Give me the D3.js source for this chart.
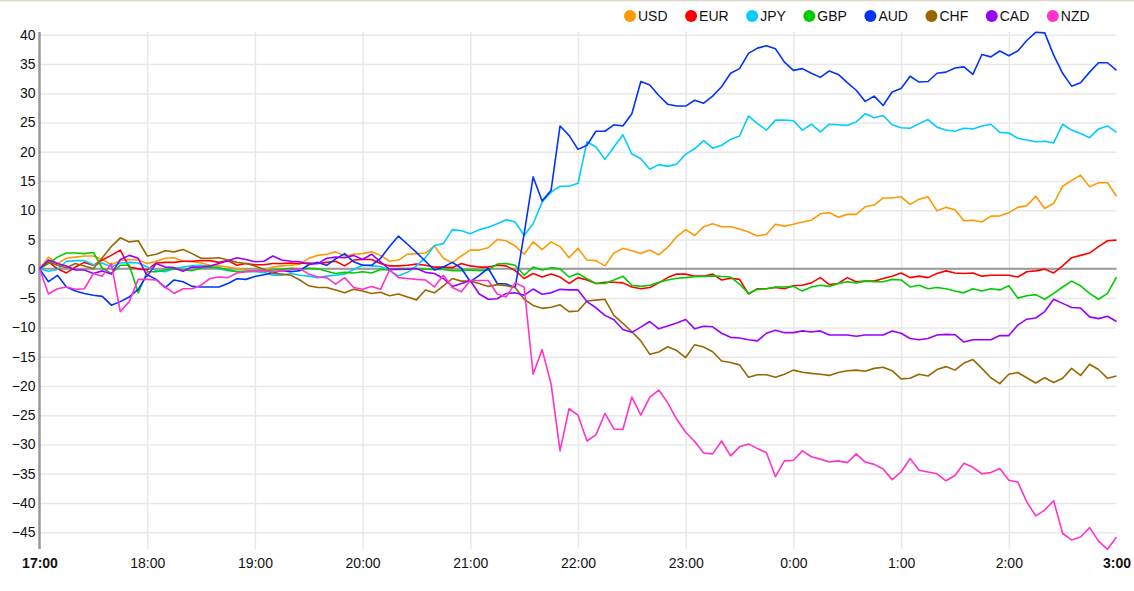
<!DOCTYPE html>
<html>
<head>
<meta charset="utf-8">
<script src="https://cdn.jsdelivr.net/npm/d3@7"></script>
<style>
    html, body { margin: 0; padding: 0; background: #fff; }
    svg { display: block; font-family: "Liberation Sans", Arial, sans-serif; }
</style>
</head>
<body>
<div id="chart-container"></div>
<script>
const currencies = ["USD", "EUR", "JPY", "GBP", "AUD", "CHF", "CAD", "NZD"];
const colorMapping = {
    USD: "#ff9900", EUR: "#ff0000", JPY: "#00ccff", GBP: "#00cc00",
    AUD: "#0033ff", CHF: "#996600", CAD: "#9900ff", NZD: "#ff33cc"
};
// one point every 5 minutes from 17:00 to 3:00
const tickLabels = ["17:00", "18:00", "19:00", "20:00", "21:00", "22:00", "23:00", "0:00", "1:00", "2:00", "3:00"];
const yTicks = [-45, -40, -35, -30, -25, -20, -15, -10, -5, 0, 5, 10, 15, 20, 25, 30, 35, 40];

const usd = [0, 2.0, 0.9, 1.8, 2.0, 2.2, 2.2, 1.6, 0.7, 1.4, 1.6, 1.5, 0.9, 1.3, 1.8, 1.9, 1.3, 1.2, 1.0, 0.6, 0.5, 0.3, 0.05, -0.2, -0.35, -0.2, 0.3, 0.5, 0.6, 0.8,
    1.8, 2.3, 2.5, 2.9, 2.2, 2.5, 2.6, 2.9, 2.3, 1.3, 1.5, 2.5, 2.6, 2.7, 3.9, 1.8, 1.0, 2.2, 3.2, 3.2, 3.6, 5.0, 4.8, 3.9, 2.5, 4.6, 3.3, 4.6, 3.8, 1.9,
    3.5, 1.5, 1.4, 0.5, 2.7, 3.5, 3.1, 2.6, 3.2, 2.4, 3.7, 5.5, 6.7, 5.7, 7.2, 7.7, 7.2, 7.2, 6.8, 6.3, 5.6, 5.9, 7.6, 7.3, 7.6, 8.0, 8.3, 9.4, 9.6, 8.8,
    9.3, 9.3, 10.6, 10.9, 12.1, 12.1, 12.3, 11.0, 11.9, 12.3, 9.9, 10.5, 10.1, 8.2, 8.3, 8.0, 9.0, 9.05, 9.6, 10.5, 10.8, 12.4, 10.3, 11.2, 14.1, 15.1, 16.0, 14.0, 14.7, 14.7, 12.4];
const eur = [0, 1.2, 0, -0.7, 0.3, 1.1, 0.6, 1.5, 2.3, 3.2, 0.3, 0, -0.2, 1.0, 1.1, 1.1, 1.3, 1.3, 1.4, 1.4, 1.1, 1.4, 0.6, 0.9, 0.7, 0.7, 0.9, 0.9, 1.0, 0.9,
    1.0, 0.9, 1.1, 1.3, 0.5, 1.5, 1.6, 1.6, 0.9, 0.5, 0.5, 0.6, 0.8, 0.6, 0.3, 0.3, 0.2, 0.9, 0.5, 0.3, 0.3, 0.6, 0.5, -0.3, -1.65, -0.8, -1.4, -0.9, -1.4, -2.5,
    -1.5, -1.9, -2.5, -2.3, -2.3, -2.4, -3.1, -3.4, -3.2, -2.4, -1.5, -0.9, -0.9, -1.25, -1.25, -0.9, -1.9, -1.6, -1.8, -4.3, -3.4, -3.4, -3.2, -3.4, -2.9, -2.8, -2.4, -1.5, -2.7, -2.5,
    -1.5, -2.2, -2.1, -2.1, -1.65, -1.25, -0.7, -1.5, -1.25, -1.5, -0.8, -0.35, -0.7, -0.8, -0.7, -1.25, -1.1, -1.1, -1.1, -1.4, -0.5, -0.35, -0.05, -0.7, 0.5, 1.9, 2.3, 2.7, 3.8, 4.8, 4.9];
const jpy = [0, -0.4, -0.1, 1.3, 1.4, 1.4, 0.7, 1.0, 0.3, 1.0, 1.1, 1.0, 0.3, -0.3, -0.5, 0.0, 0.3, 0.5, 0.6, 0.3, 0.0, -0.3, -0.4, -0.5, -0.5, -0.6, -1.1, -1.1, -0.8, -1.1,
    -1.25, -1.5, -1.25, -1.1, -0.9, -0.1, 0.6, 0.5, 0.4, -0.3, -1.2, -0.6, 0.5, 1.9, 4.0, 4.3, 6.7, 6.5, 6.0, 6.7, 7.1, 7.7, 8.4, 8.0, 5.7, 7.7, 11.4, 13.1, 14.1, 14.1,
    14.6, 21.7, 20.8, 18.7, 20.8, 22.9, 19.6, 18.8, 17.0, 17.8, 17.5, 17.9, 19.6, 20.5, 21.9, 20.6, 21.1, 22.1, 22.7, 26.1, 24.8, 23.7, 25.4, 25.4, 25.3, 23.7, 24.7, 23.4, 24.7, 24.6,
    24.5, 25.1, 26.5, 25.8, 26.2, 24.6, 24.1, 24.0, 24.8, 25.5, 24.2, 23.7, 23.5, 24.0, 23.9, 24.4, 24.7, 23.3, 23.2, 22.3, 22.0, 21.7, 21.8, 21.5, 24.7, 23.7, 23.1, 22.4, 23.9, 24.4, 23.3];
const gbp = [0, 0.9, 2.0, 2.7, 2.7, 2.6, 2.8, 0.1, -0.8, 0.6, 0.6, -4.1, -0.5, -0.5, -0.2, 0, -0.2, -0.3, 0.1, 0.3, 0.2, -0.2, -0.5, -0.4, -0.3, -0.3, -0.2, -0.1, 0.1, 0,
    0.1, 0.0, -0.4, -0.8, -0.6, -0.7, -0.5, -0.7, -0.1, -0.2, 0.05, 0.05, 0.05, -0.05, -0.1, -0.1, -0.3, -0.3, -0.2, -0.3, -0.2, 0.8, 0.9, 0.6, -1.1, 0.3, -0.2, 0.2, 0.0, -1.4,
    -0.8, -1.7, -2.5, -2.5, -1.9, -1.25, -2.8, -3.0, -2.8, -2.3, -1.9, -1.6, -1.5, -1.35, -1.3, -1.2, -1.3, -1.4, -2.6, -4.2, -3.5, -3.4, -3.1, -3.1, -3.0, -3.8, -3.1, -2.8, -3.0, -2.5,
    -2.2, -2.4, -2.1, -2.2, -2.2, -1.8, -1.9, -3.1, -2.8, -3.4, -3.2, -3.4, -3.8, -4.1, -3.4, -3.8, -3.4, -3.6, -2.9, -5.0, -4.6, -4.4, -5.2, -4.2, -3.1, -2.1, -2.9, -4.2, -5.2, -4.2, -1.4];
const aud = [0, -2.2, -1.1, -3.1, -3.8, -4.2, -4.5, -4.7, -6.2, -5.6, -4.8, -3.5, -1.0, -1.8, -3.2, -1.9, -2.2, -3.0, -3.1, -3.1, -3.1, -2.5, -1.7, -1.8, -1.3, -1.0, -0.7, -0.3, -0.5, -0.3,
    0.7, 1.1, 0.6, 1.7, 2.6, 1.2, 0.6, 0.6, 1.8, 3.8, 5.6, 4.2, 2.8, 1.3, -0.2, 0.3, 1.1, 0.1, -2.2, -1.1, 0.1, -2.5, -2.6, -3.2, 6.0, 15.7, 11.6, 13.4, 24.4, 22.8,
    20.4, 21.1, 23.5, 23.5, 24.6, 24.4, 26.5, 32.0, 31.4, 29.6, 28.1, 27.8, 27.8, 28.8, 28.3, 29.5, 31.1, 33.4, 34.2, 36.8, 37.7, 38.1, 37.6, 35.3, 33.9, 34.2, 33.4, 32.7, 33.8, 33.2,
    31.8, 30.5, 28.6, 29.5, 27.9, 30.2, 30.8, 32.9, 31.9, 32.0, 33.4, 33.6, 34.3, 34.5, 33.2, 36.6, 36.2, 37.2, 36.4, 37.2, 39.0, 40.4, 40.3, 36.5, 33.4, 31.2, 31.8, 33.6, 35.2, 35.2, 33.9];
const chf = [0, 1.2, 0.6, 0.2, 0.9, 0.5, 0, 1.9, 3.8, 5.3, 4.6, 4.8, 2.2, 2.5, 3.1, 2.9, 3.3, 2.6, 1.8, 1.8, 1.9, 1.5, 1.1, 0.9, 0.5, -0.1, -0.8, -0.9, -1.1, -1.9,
    -2.9, -3.2, -3.2, -3.6, -4.1, -3.5, -3.8, -4.2, -4.0, -4.6, -4.3, -4.8, -5.3, -3.6, -4.1, -2.9, -1.65, -2.1, -2.1, -2.5, -3.0, -2.7, -2.9, -3.2, -5.2, -6.25, -6.75, -6.55, -6.15, -7.3,
    -7.2, -5.5, -5.35, -5.2, -7.95, -9.3, -10.75, -12.3, -14.6, -14.2, -13.3, -13.95, -15.15, -12.95, -13.35, -14.15, -15.75, -16.0, -16.4, -18.5, -18.1, -18.1, -18.5, -18.0, -17.3, -17.65, -17.85, -18.0, -18.2, -17.7,
    -17.4, -17.3, -17.5, -17.0, -16.8, -17.4, -18.8, -18.7, -18.0, -18.3, -17.2, -16.7, -17.3, -16.1, -15.5, -17.0, -18.6, -19.6, -18.0, -17.7, -18.6, -19.5, -18.6, -19.4, -18.7, -17.0, -18.2, -16.3, -17.2, -18.7, -18.3];
const cad = [0, 1.5, 0.9, 0.5, -0.2, -0.2, -0.8, -0.35, -0.9, 1.6, 2.3, 1.8, -1.25, 0.9, 0.3, 0.2, -0.4, 0.3, 0.3, 0.5, 0.9, 1.4, 1.9, 1.6, 1.2, 1.3, 2.2, 1.5, 1.3, 1.2,
    0.8, 0.9, 1.8, 2.0, 1.9, 2.3, 1.6, 2.5, 1.2, -0.1, -0.1, -0.05, 0.05, -0.6, -0.8, -1.65, -3.0, -2.5, -2.0, -4.3, -5.2, -5.1, -4.2, -4.1, -4.5, -3.45, -4.35, -4.1, -3.5, -3.6,
    -3.6, -5.6, -6.65, -7.95, -8.7, -10.35, -10.85, -9.95, -9.0, -10.25, -9.75, -9.25, -8.65, -10.25, -9.8, -9.9, -11.0, -11.7, -11.8, -12.1, -12.3, -11.0, -10.5, -10.9, -10.9, -10.6, -10.8, -10.6, -11.3, -11.3,
    -11.3, -11.5, -11.3, -11.3, -11.3, -10.6, -11.0, -11.9, -12.1, -11.9, -11.3, -11.2, -11.25, -12.5, -12.1, -12.1, -12.1, -11.4, -11.4, -9.6, -8.6, -8.4, -7.3, -5.2, -5.9, -6.6, -6.7, -8.2, -8.5, -8.1, -9.0];
const nzd = [0, -4.3, -3.4, -3.1, -3.5, -3.4, -0.8, -1.25, 0.9, -7.3, -5.6, -1.8, -1.8, -1.9, -3.1, -4.2, -3.4, -3.4, -2.8, -1.65, -1.4, -1.5, -0.7, -0.5, -0.35, -0.35, -0.5, -0.35, -0.2, 0.05,
    -0.9, -1.4, -1.5, -2.6, -1.5, -3.2, -3.5, -3.0, -3.5, -0.2, -1.5, -1.65, -1.8, -1.9, -3.1, -1.1, -3.2, -3.9, -2.0, -2.0, -2.0, -4.3, -4.8, -2.4, -3.1, -18.0, -13.8, -19.65, -31.1, -23.9,
    -25.0, -29.4, -28.35, -24.7, -27.35, -27.45, -21.9, -25.0, -21.9, -20.7, -22.9, -25.7, -27.9, -29.5, -31.45, -31.6, -29.4, -31.95, -30.4, -29.9, -30.7, -31.4, -35.5, -32.8, -32.7, -31.1, -32.1, -32.5, -33.0, -32.8,
    -33.1, -31.6, -33.0, -33.4, -34.2, -36.0, -34.7, -32.4, -34.4, -34.7, -35.0, -36.2, -35.3, -33.2, -33.9, -35.0, -34.8, -34.1, -36.1, -36.4, -39.8, -42.2, -41.2, -39.6, -45.2, -46.3, -45.8, -44.2, -46.5, -47.9, -45.8];

const seriesValues = {USD: usd, EUR: eur, JPY: jpy, GBP: gbp, AUD: aud, CHF: chf, CAD: cad, NZD: nzd};

const chartWidth = 1134;
const chartHeight = 591;
const chartPadding = {top: 32, right: 17.5, bottom: 42, left: 39.5};

/**
 * Create the scales
 * @returns The x and y scales
 */
function createScales() {
    const xScale = d3.scaleLinear()
        .domain([0, (tickLabels.length - 1) * 12])
        .range([chartPadding.left, chartWidth - chartPadding.right]);

    const yScale = d3.scaleLinear()
        .domain([-47.85, 40.45])
        .range([chartHeight - chartPadding.bottom, chartPadding.top]);

    return {xScale, yScale};
}

/**
 * Draw the grid, the axes and the zero line
 */
function drawAxes(chartSvg, xScale, yScale) {
    const x0 = chartPadding.left, x1 = chartWidth - chartPadding.right;
    const y0 = chartPadding.top, y1 = chartHeight - chartPadding.bottom;
    const xTicks = tickLabels.map((d, i) => i * 12);

    chartSvg.append("line")
        .attr("x1", 0).attr("x2", chartWidth)
        .attr("y1", 0.5).attr("y2", 0.5)
        .attr("stroke", "#ddd6c4")
        .attr("stroke-width", 1.5);

    // grid lines
    const yAxis = d3.axisLeft(yScale)
        .tickValues(yTicks)
        .tickSize(-(x1 - x0))
        .tickPadding(5)
        .tickFormat(d3.format("d"));

    const yAxisGroup = chartSvg.append("g")
        .attr("transform", `translate(${x0}, 0)`)
        .call(yAxis);
    yAxisGroup.select(".domain").remove();
    yAxisGroup.selectAll(".tick line")
        .attr("stroke", "#e8e8e8")
        .attr("stroke-width", 1.5);
    yAxisGroup.selectAll(".tick text")
        .attr("x", -4)
        .attr("fill", "#111")
        .style("font-size", "14px");

    const xAxis = d3.axisBottom(xScale)
        .tickValues(xTicks)
        .tickSize(-(y1 - y0))
        .tickPadding(9)
        .tickFormat((d, i) => tickLabels[i]);

    const xAxisGroup = chartSvg.append("g")
        .attr("transform", `translate(0, ${y1})`)
        .call(xAxis);
    xAxisGroup.select(".domain").remove();
    xAxisGroup.selectAll(".tick line")
        .attr("stroke", (d, i) => (i === 0 || i === xTicks.length - 1) ? "none" : "#e8e8e8")
        .attr("stroke-width", 1.5);
    xAxisGroup.selectAll(".tick text")
        .attr("fill", "#111")
        .style("font-size", "14px")
        .style("font-weight", (d, i) => (i === 0 || i === xTicks.length - 1) ? "bold" : "normal");

    // zero line and left axis line
    chartSvg.append("line")
        .attr("x1", x0).attr("x2", x1)
        .attr("y1", yScale(0)).attr("y2", yScale(0))
        .attr("stroke", "#999")
        .attr("stroke-width", 2);

    chartSvg.append("line")
        .attr("x1", x0).attr("x2", x0)
        .attr("y1", y0).attr("y2", y1)
        .attr("stroke", "#999")
        .attr("stroke-width", 2.5);
}

/**
 * Draw the currency lines
 */
function drawLines(chartSvg, xScale, yScale) {
    const line = d3.line()
        .x((d, i) => xScale(i))
        .y(d => yScale(d));

    chartSvg.append("g")
        .selectAll("path")
        .data(currencies)
        .enter()
        .append("path")
        .attr("d", c => line(seriesValues[c]))
        .attr("fill", "none")
        .attr("stroke", c => colorMapping[c])
        .attr("stroke-width", 1.6)
        .attr("stroke-linejoin", "round");
}

/**
 * Create the color legend at the top right
 */
function createColorLegend(chartSvg) {
    const legendGroup = chartSvg.append("g")
        .attr("transform", "translate(624, 16)");

    let legendX = 0;
    for (const currency of currencies) {
        legendGroup.append("circle")
            .attr("cx", legendX + 6)
            .attr("cy", 0)
            .attr("r", 6)
            .attr("fill", colorMapping[currency]);

        const label = legendGroup.append("text")
            .attr("x", legendX + 14)
            .attr("y", 5)
            .attr("fill", "#111")
            .style("font-size", "14px")
            .text(currency);

        legendX += 14 + label.node().getComputedTextLength() + 17.5;
    }
}

const chartSvg = d3.select("#chart-container").append("svg")
    .attr("width", chartWidth)
    .attr("height", chartHeight);

const {xScale, yScale} = createScales();
drawAxes(chartSvg, xScale, yScale);
drawLines(chartSvg, xScale, yScale);
createColorLegend(chartSvg);
</script>
</body>
</html>
